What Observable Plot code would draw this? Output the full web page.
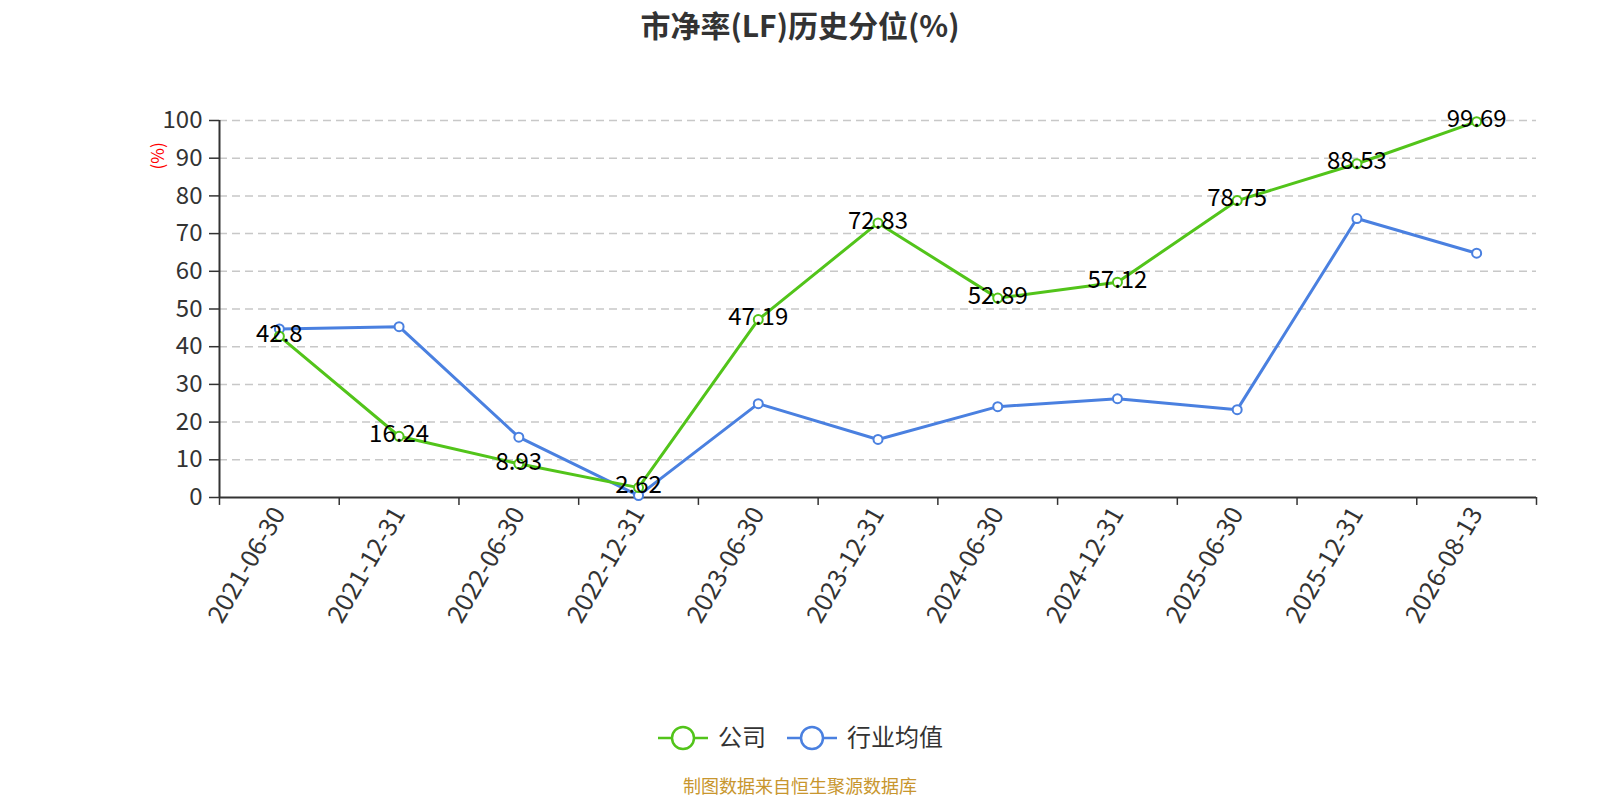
<!DOCTYPE html>
<html><head><meta charset="utf-8">
<script src="https://cdn.jsdelivr.net/npm/d3@7"></script>
<script src="https://cdn.jsdelivr.net/npm/@observablehq/plot@0.6"></script>
<style>
html,body{margin:0;padding:0;background:#fff;overflow:hidden;width:1600px;height:800px;font-family:"Noto Sans CJK SC","Noto Sans",sans-serif;}
#wrap{position:relative;width:1600px;height:800px;overflow:hidden;}
#title{position:absolute;top:4px;left:0;width:1600px;text-align:center;font-size:30px;line-height:40px;font-weight:bold;color:#333;}
#legend{position:absolute;top:716px;left:0;width:1600px;height:44px;}
#footer{position:absolute;top:774px;left:0;width:1600px;text-align:center;font-size:18px;line-height:22px;color:#c8962e;}
#chart{position:absolute;top:0;left:0;width:1600px;height:800px;}
#chart svg{max-width:none;}
</style></head>
<body><div id="wrap"><div id="chart"></div><div id="title">市净率(LF)历史分位(%)</div><div id="legend"></div><div id="footer">制图数据来自恒生聚源数据库</div></div>
<script>
const dates = ["2021-06-30","2021-12-31","2022-06-30","2022-12-31","2023-06-30","2023-12-31","2024-06-30","2024-12-31","2025-06-30","2025-12-31","2026-08-13"];
const company = [42.8,16.24,8.93,2.62,47.19,72.83,52.89,57.12,78.75,88.53,99.69];
const industry = [44.7,45.3,16.0,0.5,24.9,15.4,24.1,26.2,23.3,74.0,64.8];
const yTicks = [0,10,20,30,40,50,60,70,80,90,100];
const seriesNames = ["公司","行业均值"];
const colors = ["#52c41a","#4a80e0"];

const compData = dates.map((d,i)=>({i, date:d, v:company[i]}));
const indData = dates.map((d,i)=>({i, date:d, v:industry[i]}));
const idx = dates.map((d,i)=>i);
const bounds = dates.map((d,i)=>i-0.5).concat([dates.length-0.5]);
const FONT = '"Noto Sans CJK SC","Noto Sans",sans-serif';

const plot = Plot.plot({
  width:1600, height:800,
  marginLeft:219, marginRight:64, marginTop:120, marginBottom:303,
  style:{fontFamily:FONT, background:"transparent"},
  x:{type:"linear", domain:[-0.5, dates.length-0.5]},
  y:{domain:[0,100]},
  marks:[
    Plot.gridY(yTicks.slice(1), {stroke:"#c8c8c8", strokeOpacity:1, strokeDasharray:"8,5", strokeWidth:1.5}),
    Plot.axisY(yTicks, {tickSize:10, stroke:"#333", strokeWidth:1.5, fontSize:24, fill:"#333", tickPadding:7, label:null}),
    Plot.ruleX([-0.5], {stroke:"#333", strokeWidth:2}),
    Plot.ruleY([0], {stroke:"#333", strokeWidth:2}),
    Plot.ruleX(bounds, {x:d=>d, y1:0, y2:-2.1, stroke:"#333", strokeWidth:1.5}),
    Plot.axisX(idx, {tickSize:0, tickPadding:12, tickRotate:-60, tickFormat:i=>dates[i], fontSize:25, fill:"#333", label:null}),
    Plot.text(["(%)"], {frameAnchor:"top-left", dx:-68, dy:49, rotate:-90, fill:"red", fontSize:17, text:d=>d}),
    Plot.line(indData, {x:"i", y:"v", stroke:colors[1], strokeWidth:3}),
    Plot.line(compData, {x:"i", y:"v", stroke:colors[0], strokeWidth:3}),
    Plot.dot(indData, {x:"i", y:"v", r:4.5, fill:"white", stroke:colors[1], strokeWidth:2}),
    Plot.dot(compData, {x:"i", y:"v", r:4.5, fill:"white", stroke:colors[0], strokeWidth:2}),
    Plot.text(compData, {x:"i", y:"v", text:d=>String(d.v), fill:"#000", fontSize:24, dy:-2})
  ]
});
document.getElementById("chart").appendChild(plot);

// legend
const lg = d3.select("#legend").append("svg").attr("width",1600).attr("height",44);
const items = [{name:seriesNames[0], c:colors[0], x:658, tx:718},{name:seriesNames[1], c:colors[1], x:787, tx:847}];
items.forEach(it=>{
  const g = lg.append("g");
  g.append("line").attr("x1",it.x).attr("x2",it.x+50).attr("y1",22).attr("y2",22).attr("stroke",it.c).attr("stroke-width",2.5);
  g.append("circle").attr("cx",it.x+25).attr("cy",22).attr("r",11).attr("fill","white").attr("stroke",it.c).attr("stroke-width",2.5);
  g.append("text").attr("x",it.tx).attr("y",22).attr("dy","0.35em").attr("font-size",24).attr("fill","#333").attr("font-family",FONT).text(it.name);
});
</script></body></html>
